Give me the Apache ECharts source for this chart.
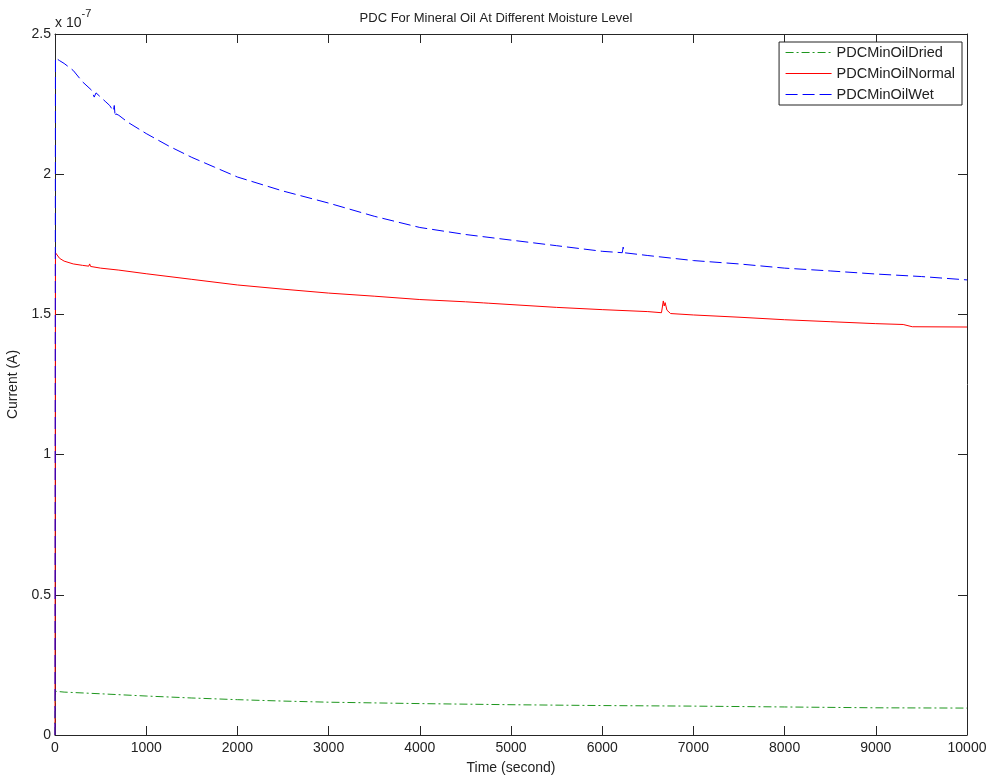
<!DOCTYPE html>
<html>
<head>
<meta charset="utf-8">
<script src="https://cdn.jsdelivr.net/npm/echarts@6/dist/echarts.min.js"></script>
<style>html,body{margin:0;padding:0;background:#fff}#chart{width:992px;height:778px}</style>
</head>
<body>
<div id="chart"></div>
<script>
// Values in units of 1e-7 A (axis shows "x 10^-7")
const timeDried = [0, 5, 100, 500, 1000, 1500, 2000, 2500, 3000, 4000, 5000, 6000, 7000, 8000, 9000, 10000];
const dried     = [0, 0.156, 0.153, 0.147, 0.139, 0.132, 0.126, 0.121, 0.117, 0.112, 0.108, 0.105, 0.103, 0.100, 0.097, 0.096];

const timeNormal = [0, 5, 50, 100, 200, 300, 370, 380, 390, 500, 700, 1000, 1500, 2000, 2500, 3000, 3500, 4000, 4500, 4700, 4720, 4750, 5000, 5500, 6000, 6500, 6650, 6670, 6680, 6690, 6710, 6750, 7000, 7500, 8000, 8500, 9000, 9300, 9400, 10000];
const normal     = [0, 1.72, 1.70, 1.69, 1.68, 1.675, 1.672, 1.68, 1.671, 1.665, 1.658, 1.645, 1.625, 1.605, 1.59, 1.576, 1.565, 1.553, 1.545, 1.541, 1.548, 1.540, 1.535, 1.525, 1.517, 1.51, 1.506, 1.548, 1.53, 1.542, 1.515, 1.503, 1.498, 1.49, 1.481, 1.474, 1.467, 1.464, 1.456, 1.455];

const timeWet = [0, 5, 50, 100, 200, 300, 400, 430, 450, 500, 550, 600, 640, 650, 660, 670, 700, 800, 1000, 1250, 1500, 1750, 2000, 2500, 3000, 3500, 4000, 4500, 5000, 5500, 6000, 6220, 6230, 6240, 6500, 7000, 7500, 8000, 8500, 9000, 9500, 10000];
const wet     = [0, 2.415, 2.405, 2.395, 2.37, 2.33, 2.30, 2.275, 2.29, 2.275, 2.26, 2.245, 2.225, 2.245, 2.205, 2.215, 2.21, 2.185, 2.145, 2.10, 2.06, 2.025, 1.99, 1.94, 1.897, 1.85, 1.81, 1.785, 1.765, 1.745, 1.725, 1.72, 1.74, 1.72, 1.71, 1.692, 1.68, 1.665, 1.655, 1.644, 1.635, 1.623];

const seriesNames = ['PDCMinOilDried', 'PDCMinOilNormal', 'PDCMinOilWet'];
const xTicks = [0, 1000, 2000, 3000, 4000, 5000, 6000, 7000, 8000, 9000, 10000];
const yTicks = [0, 0.5, 1, 1.5, 2, 2.5];

const zip = (t, v) => t.map((x, i) => [x, v[i]]);
const font = 'Liberation Sans, Arial, sans-serif';
const tickCol = '#262626';

const chart = echarts.init(document.getElementById('chart'));
const baseX = {
  type: 'value', min: 0, max: 10000, interval: 1000,
  axisLine: { show: true, onZero: false, lineStyle: { color: tickCol, width: 1 } },
  axisTick: { show: true, inside: true, length: 9, lineStyle: { color: tickCol } },
  splitLine: { show: false }
};
const baseY = {
  type: 'value', min: 0, max: 2.5, interval: 0.5,
  axisLine: { show: true, onZero: false, lineStyle: { color: tickCol, width: 1 } },
  axisTick: { show: true, inside: true, length: 9, lineStyle: { color: tickCol } },
  splitLine: { show: false }
};
chart.setOption({
  backgroundColor: '#fff',
  animation: false,
  title: {
    text: 'PDC For Mineral Oil At Different Moisture Level',
    left: 'center', top: 7,
    textStyle: { fontFamily: font, fontSize: 13, fontWeight: 'normal', color: '#222' }
  },
  grid: { left: 55, right: 25, top: 34, bottom: 43, outerBoundsMode: 'none', containLabel: false },
  xAxis: [
    Object.assign({}, baseX, {
      position: 'bottom',
      name: 'Time (second)', nameLocation: 'middle', nameGap: 26,
      nameTextStyle: { fontFamily: font, fontSize: 14, color: '#222' },
      axisLabel: { fontFamily: font, fontSize: 14, color: '#222', margin: 6,
        formatter: v => xTicks.includes(v) ? String(v) : '' }
    }),
    Object.assign({}, baseX, { position: 'top', axisLabel: { show: false } })
  ],
  yAxis: [
    Object.assign({}, baseY, {
      position: 'left',
      name: 'Current (A)', nameLocation: 'middle', nameGap: 32,
      nameTextStyle: { fontFamily: font, fontSize: 14, color: '#222' },
      axisLabel: { fontFamily: font, fontSize: 14, color: '#222', margin: 4,
        formatter: v => yTicks.includes(v) ? String(v) : '' }
    }),
    Object.assign({}, baseY, { position: 'right', axisLabel: { show: false } })
  ],
  legend: {
    show: true,
    orient: 'vertical', right: 30, top: 42,
    backgroundColor: '#fff', borderColor: '#222', borderWidth: 1,
    padding: [3, 7, 3, 6], itemGap: 6, itemWidth: 46, itemHeight: 14,
    itemStyle: { color: 'rgba(0,0,0,0)', borderColor: 'rgba(0,0,0,0)', borderWidth: 0, opacity: 0 },
    lineStyle: { width: 1 },
    textStyle: { fontFamily: font, fontSize: 14.5, color: '#222' },
    data: seriesNames
  },
  graphic: [{
    type: 'text', left: 55, top: 8,
    style: {
      text: '{a|x 10}{b|-7}',
      rich: {
        a: { fontFamily: font, fontSize: 14, fill: '#222', padding: [8, 0, 0, 0] },
        b: { fontFamily: font, fontSize: 11, fill: '#222', verticalAlign: 'top' }
      }
    }
  }],
  series: [
    { name: seriesNames[0], type: 'line', data: zip(timeDried, dried), showSymbol: false, symbol: 'none',
      lineStyle: { color: '#1e961e', width: 1, type: [8, 3, 2, 3] }, itemStyle: { color: '#1e961e' } },
    { name: seriesNames[1], type: 'line', data: zip(timeNormal, normal), showSymbol: false, symbol: 'none',
      lineStyle: { color: '#ff0000', width: 1 }, itemStyle: { color: '#ff0000' } },
    { name: seriesNames[2], type: 'line', data: zip(timeWet, wet), showSymbol: false, symbol: 'none',
      lineStyle: { color: '#0000ff', width: 1, type: [12, 5] }, itemStyle: { color: '#0000ff' } }
  ]
});
</script>
</body>
</html>
